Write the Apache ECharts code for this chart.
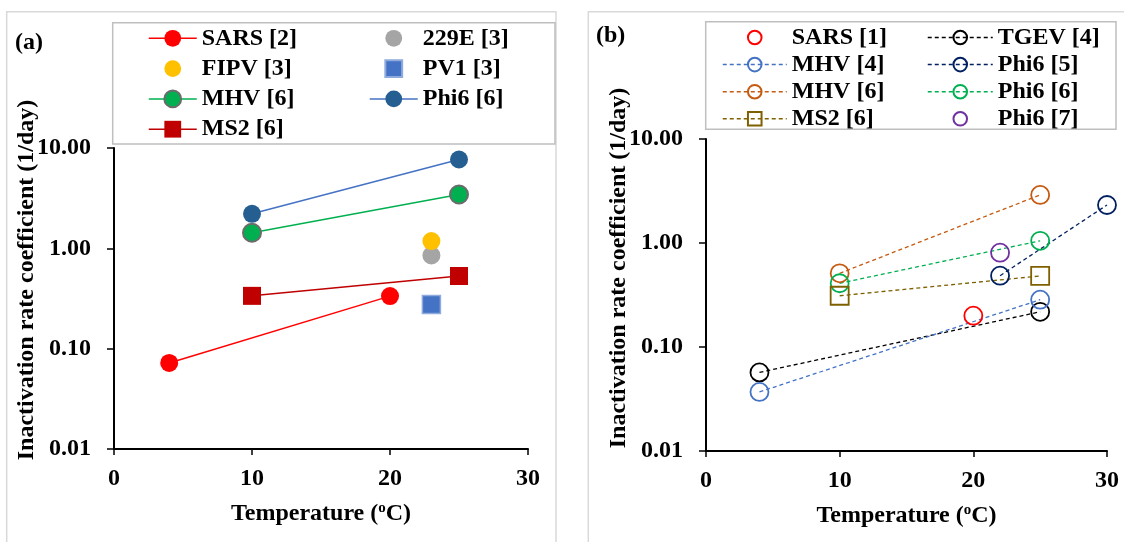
<!DOCTYPE html>
<html>
<head>
<meta charset="utf-8">
<script src="https://cdn.jsdelivr.net/npm/echarts@6/dist/echarts.min.js"></script>
<style>
html,body{margin:0;padding:0;background:#fff;}
#chart{width:1124px;height:542px;}
</style>
</head>
<body>
<div id="chart"></div>
<script>
// ---------- DATA ----------
// Panel (a): [temperature °C, inactivation rate coefficient 1/day]
const aSARS2  = [[4, 0.072], [20, 0.334]];
const a229E3  = [[23, 0.85]];
const aFIPV3  = [[23, 1.18]];
const aPV13   = [[23, 0.276]];
const aMHV6   = [[10, 1.43], [25, 3.44]];
const aPhi66  = [[10, 2.21], [25, 7.68]];
const aMS26   = [[10, 0.336], [25, 0.53]];
// Panel (b)
const bSARS1  = [[20, 0.2]];
const bTGEV4  = [[4, 0.057], [25, 0.218]];
const bMHV4   = [[4, 0.037], [25, 0.285]];
const bPhi65  = [[22, 0.485], [30, 2.32]];
const bMHV6   = [[10, 0.511], [25, 2.9]];
const bPhi66  = [[10, 0.41], [25, 1.05]];
const bMS26   = [[10, 0.311], [25, 0.482]];
const bPhi67  = [[22, 0.807]];

const xMin = 0, xMax = 30, xStep = 10;
const yMin = 0.01, yMax = 10;
const legendA1 = ['a:SARS [2]', 'a:FIPV [3]', 'a:MHV [6]', 'a:MS2 [6]'];
const legendA2 = ['a:229E [3]', 'a:PV1 [3]', 'a:Phi6 [6]'];
const legendB1 = ['b:SARS [1]', 'b:MHV [4]', 'b:MHV [6]', 'b:MS2 [6]'];
const legendB2 = ['b:TGEV [4]', 'b:Phi6 [5]', 'b:Phi6 [6]', 'b:Phi6 [7]'];
const xTitle = 'Temperature (';
const yTitle = 'Inactivation rate coefficient (1/day)';

// ---------- STYLE ----------
const FF = "'Liberation Serif', 'Times New Roman', serif";
const chart = echarts.init(document.getElementById('chart'), null, {renderer: 'canvas'});

function solid(name, data, fill, line, opts) {
  opts = opts || {};
  return {
    name, type: 'line', data, xAxisIndex: 0, yAxisIndex: 0,
    symbol: opts.symbol || 'circle', symbolSize: 18, clip: false,
    itemStyle: {color: fill, borderColor: opts.border || fill, borderWidth: opts.bw || 0, opacity: 1},
    lineStyle: {color: line || 'rgba(0,0,0,0)', width: 1.5},
    emphasis: {disabled: true}, animation: false
  };
}
function dashed(name, data, color, opts) {
  opts = opts || {};
  return {
    name, type: 'line', data, xAxisIndex: 1, yAxisIndex: 1,
    symbol: opts.symbol || 'circle', symbolSize: 18, clip: false,
    itemStyle: {color: 'rgba(255,255,255,0)', borderColor: color, borderWidth: 1.8, opacity: 1},
    lineStyle: {color: opts.noLine ? 'rgba(0,0,0,0)' : color, width: 1.3, type: [4, 3]},
    emphasis: {disabled: true}, animation: false
  };
}

const series = [
  solid('a:SARS [2]', aSARS2, '#FF0000', '#FF0000'),
  solid('a:229E [3]', a229E3, '#A5A5A5', null),
  solid('a:FIPV [3]', aFIPV3, '#FFC000', null),
  solid('a:PV1 [3]', aPV13, '#4472C4', null, {symbol: 'rect', border: '#8FAADC', bw: 1.5}),
  solid('a:MHV [6]', aMHV6, '#00B050', '#00B050', {border: '#6B6B6B', bw: 2}),
  solid('a:Phi6 [6]', aPhi66, '#255E91', '#4472C4'),
  solid('a:MS2 [6]', aMS26, '#C00000', '#C00000', {symbol: 'rect'}),
  dashed('b:SARS [1]', bSARS1, '#FF0000', {noLine: true}),
  dashed('b:TGEV [4]', bTGEV4, '#000000'),
  dashed('b:MHV [4]', bMHV4, '#4472C4'),
  dashed('b:Phi6 [5]', bPhi65, '#002060'),
  dashed('b:MHV [6]', bMHV6, '#C55A11'),
  dashed('b:Phi6 [6]', bPhi66, '#00B050'),
  dashed('b:MS2 [6]', bMS26, '#7F6000', {symbol: 'rect'}),
  dashed('b:Phi6 [7]', bPhi67, '#7030A0', {noLine: true})
];

const labelStyle = {fontFamily: FF, fontSize: 24, fontWeight: 'bold', color: '#000'};

function xAxis(gridIndex) {
  return {
    type: 'value', gridIndex, min: xMin, max: xMax, interval: xStep,
    axisLine: {show: true, onZero: false, lineStyle: {color: '#000', width: 2}},
    axisTick: {show: true, inside: false, length: 6, lineStyle: {color: '#000', width: 1.5}},
    axisLabel: Object.assign({margin: 18}, labelStyle),
    splitLine: {show: false},
    name: xTitle + '{sup|o}C)', nameLocation: 'middle', nameGap: 52,
    nameTextStyle: Object.assign({}, labelStyle, {
      rich: {sup: {fontFamily: FF, fontSize: 15, fontWeight: 'bold', color: '#000', verticalAlign: 'top', lineHeight: 26}}
    })
  };
}
function yAxis(gridIndex) {
  return {
    type: 'log', logBase: 10, gridIndex, min: yMin, max: yMax,
    axisLine: {show: true, onZero: false, lineStyle: {color: '#000', width: 2}},
    axisTick: {show: true, inside: false, length: 7, lineStyle: {color: '#000', width: 1.5}},
    axisLabel: Object.assign({margin: 23, formatter: v => Number(v).toFixed(2)}, labelStyle),
    splitLine: {show: false}, minorTick: {show: false}
  };
}

function legend(data, left, top, w, h, gap) {
  return {
    data, orient: 'vertical', left, top, itemWidth: w, itemHeight: h, itemGap: gap,
    padding: 0, selectedMode: false,
    formatter: n => n.slice(2),
    lineStyle: {width: 1.5},
    textStyle: {fontFamily: FF, fontSize: 24, fontWeight: 'bold', color: '#000', lineHeight: 24}
  };
}

const option = {
  backgroundColor: '#fff',
  animation: false,
  grid: [
    {left: 114, top: 148, width: 414, height: 301, containLabel: false},
    {left: 706, top: 139, width: 401, height: 312, containLabel: false}
  ],
  xAxis: [xAxis(0), xAxis(1)],
  yAxis: [yAxis(0), yAxis(1)],
  legend: [
    legend(legendA1, 148, 26.3, 48, 21, 6.3),
    legend(legendA2, 369, 26.3, 48, 21, 6.3),
    legend(legendB1, 722, 25.5, 64, 17, 3.1),
    legend(legendB2, 927, 25.5, 65, 17, 3.1)
  ],
  series,
  graphic: [
    {type: 'rect', z: -1, shape: {x: 6.7, y: 11.7, width: 549.3, height: 600}, style: {fill: 'none', stroke: '#D9D9D9', lineWidth: 1.5}},
    {type: 'rect', z: -1, shape: {x: 588.3, y: 11.7, width: 600, height: 600}, style: {fill: 'none', stroke: '#D9D9D9', lineWidth: 1.5}},
    {type: 'rect', z: -1, shape: {x: 112.7, y: 22.7, width: 442.3, height: 121.3}, style: {fill: 'none', stroke: '#BFBFBF', lineWidth: 1.5}},
    {type: 'rect', z: -1, shape: {x: 705.7, y: 21.7, width: 410.3, height: 107.6}, style: {fill: 'none', stroke: '#BFBFBF', lineWidth: 1.5}},
    {type: 'text', x: 15, y: 43, style: {text: '(a)', fontFamily: FF, fontSize: 24, fontWeight: 'bold', fill: '#000', align: 'left', verticalAlign: 'middle'}},
    {type: 'text', x: 596, y: 36, style: {text: '(b)', fontFamily: FF, fontSize: 24, fontWeight: 'bold', fill: '#000', align: 'left', verticalAlign: 'middle'}},
    {type: 'text', x: 27, y: 280, rotation: Math.PI / 2, style: {text: yTitle, fontFamily: FF, fontSize: 24, fontWeight: 'bold', fill: '#000', align: 'center', verticalAlign: 'middle'}},
    {type: 'text', x: 619, y: 268, rotation: Math.PI / 2, style: {text: yTitle, fontFamily: FF, fontSize: 24, fontWeight: 'bold', fill: '#000', align: 'center', verticalAlign: 'middle'}}
  ]
};
chart.setOption(option);
</script>
</body>
</html>
